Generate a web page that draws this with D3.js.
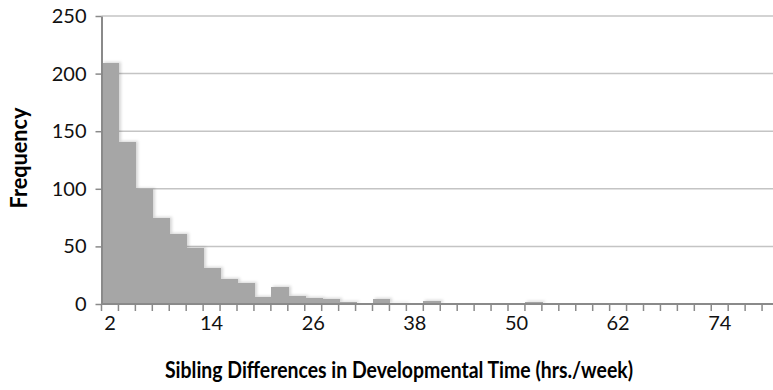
<!DOCTYPE html>
<html>
<head>
<meta charset="utf-8">
<script src="https://cdn.jsdelivr.net/npm/d3@7"></script>
<style>
  body { margin: 0; background: #fff; }
  svg { display: block; }
</style>
</head>
<body>
<div id="chart"></div>
<script>
// histogram categories (bin labels, hrs./week) and counts
const categories = d3.range(2, 82, 2);
const frequencies = [209, 141, 100, 75, 61, 49, 31, 22, 18, 6,
                     15, 7, 5, 4, 2, 0, 4, 1, 0, 3,
                     0, 0, 0, 0, 0, 2, 0, 0, 0, 0,
                     0, 0, 0, 0, 0, 0, 0, 0, 0, 0];
const xTickLabels = [2, 14, 26, 38, 50, 62, 74];
const yTicks = [0, 50, 100, 150, 200, 250];

const W = 773, H = 390;
const margin = { top: 16, left: 101.5, bottom: 86, right: -6 };
const plotW = W - margin.left - margin.right;
const plotH = H - margin.top - margin.bottom;
const font = "Lato, 'Open Sans', sans-serif";

const svg = d3.select("#chart").append("svg")
  .attr("width", W)
  .attr("height", H)
  .style("font-family", font);

const defs = svg.append("defs");
const f = defs.append("filter").attr("id", "soft")
  .attr("x", "-5%").attr("y", "-5%").attr("width", "120%").attr("height", "120%");
f.append("feDropShadow")
  .attr("dx", 2).attr("dy", -1)
  .attr("stdDeviation", 1.8)
  .attr("flood-color", "#000")
  .attr("flood-opacity", 0.16);

const g = svg.append("g").attr("transform", `translate(${margin.left},${margin.top})`);

const x = d3.scaleBand().domain(categories).range([0, plotW]).padding(0);
const y = d3.scaleLinear().domain([0, 250]).range([plotH, 0]);

// gridlines
g.append("g")
  .selectAll("line")
  .data(yTicks.filter(d => d > 0))
  .enter().append("line")
  .attr("x1", 0).attr("x2", plotW)
  .attr("y1", d => y(d)).attr("y2", d => y(d))
  .attr("stroke", "#c4c4c4")
  .attr("stroke-width", 1.5);

// bars
g.append("g")
  .attr("filter", "url(#soft)")
  .selectAll("rect")
  .data(categories.map((c, i) => ({ c: c, v: frequencies[i] })).filter(d => d.v > 0))
  .enter().append("rect")
  .attr("x", d => Math.round(x(d.c) + margin.left) - margin.left)
  .attr("width", d => Math.round(x(d.c) + x.bandwidth() + margin.left) - Math.round(x(d.c) + margin.left) + 1)
  .attr("y", d => y(d.v))
  .attr("height", d => plotH - y(d.v))
  .attr("shape-rendering", "crispEdges")
  .attr("fill", "#a6a6a6");

// y axis
const yAxis = g.append("g")
  .call(d3.axisLeft(y).tickValues(yTicks).tickSize(6).tickPadding(9).tickSizeOuter(0));
yAxis.select(".domain").attr("stroke", "#8a8a8a").attr("stroke-width", 2);
yAxis.selectAll(".tick line").attr("stroke", "#8a8a8a").attr("stroke-width", 1.5);
yAxis.selectAll(".tick text")
  .attr("font-size", "20px")
  .attr("fill", "#111")
  .style("font-family", font);

// x axis: line, tick marks at bin boundaries, labels at bin centres
const xg = g.append("g").attr("transform", `translate(0,${plotH})`);
xg.append("line")
  .attr("x1", 0).attr("x2", plotW)
  .attr("stroke", "#8a8a8a").attr("stroke-width", 2);
xg.selectAll(".bound")
  .data(categories)
  .enter().append("line")
  .attr("class", "bound")
  .attr("x1", d => x(d)).attr("x2", d => x(d))
  .attr("y1", 0).attr("y2", 7)
  .attr("stroke", "#8a8a8a").attr("stroke-width", 1.5);

const xLabels = g.append("g")
  .attr("transform", `translate(0,${plotH})`)
  .call(d3.axisBottom(x).tickValues(xTickLabels).tickSize(0).tickPadding(22));
xLabels.select(".domain").remove();
xLabels.selectAll(".tick text")
  .attr("font-size", "20px")
  .attr("fill", "#111")
  .attr("dy", "0.2em")
  .style("font-family", font);

// axis titles
svg.append("text")
  .attr("x", 399)
  .attr("y", 378)
  .attr("text-anchor", "middle")
  .attr("font-size", "22px")
  .attr("font-weight", "bold")
  .attr("fill", "#000")
  .attr("textLength", 468)
  .attr("lengthAdjust", "spacingAndGlyphs")
  .text("Sibling Differences in Developmental Time (hrs./week)");

svg.append("text")
  .attr("transform", "translate(27,158) rotate(-90)")
  .attr("text-anchor", "middle")
  .attr("font-size", "22px")
  .attr("font-weight", "bold")
  .attr("fill", "#000")
  .attr("textLength", 101)
  .attr("lengthAdjust", "spacingAndGlyphs")
  .text("Frequency");
</script>
</body>
</html>
